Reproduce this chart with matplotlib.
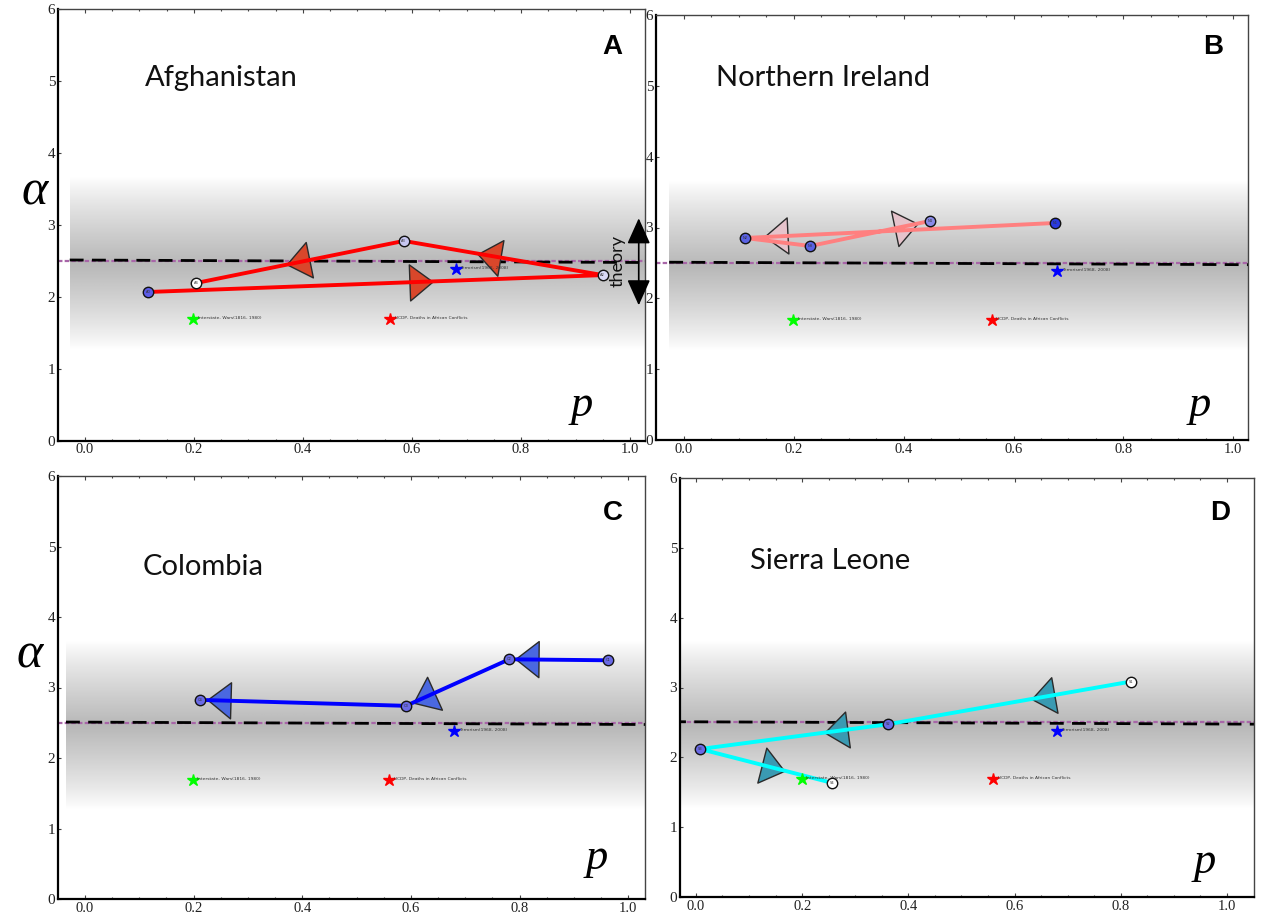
import numpy as np
import matplotlib
matplotlib.use("Agg")
import matplotlib.pyplot as plt
from matplotlib.markers import MarkerStyle
from matplotlib.path import Path
from matplotlib.transforms import Affine2D

# ---------------- data ----------------
countries = ["Afghanistan", "Northern Ireland", "Colombia", "Sierra Leone"]
panel_letters = ["A", "B", "C", "D"]

afg_p = [0.116, 0.950, 0.585, 0.204]
afg_alpha = [2.065, 2.30, 2.775, 2.19]
afg_labels = ["A0", "A2", "A3", "A4"]

nir_p = [0.676, 0.111, 0.230, 0.448]
nir_alpha = [3.064, 2.852, 2.739, 3.092]
nir_labels = ["N1", "N2", "N3", "N4"]

col_p = [0.963, 0.781, 0.591, 0.212]
col_alpha = [3.386, 3.40, 2.74, 2.824]
col_labels = ["C1", "C2", "C3", "C4"]

sle_p = [0.819, 0.362, 0.008, 0.256]
sle_alpha = [3.085, 2.474, 2.119, 1.635]
sle_labels = ["S1", "S2", "S3", "S4"]

ref_names = ["Interstate- Wars(1816- 1980)", "UCDP- Deaths in African Conflicts",
             "Terrorism(1968- 2008)"]
ref_p = [0.199, 0.560, 0.680]
ref_alpha = [1.69, 1.69, 2.38]
ref_colors = ["#00ff00", "#ff0000", "#0000ff"]

theory_alpha = 2.5
band_range = (1.27, 2.45, 3.65)

x_ticks = [0.0, 0.2, 0.4, 0.6, 0.8, 1.0]
x_ticklabels = ["0.0", "0.2", "0.4", "0.6", "0.8", "1.0"]
y_ticks = [0, 1, 2, 3, 4, 5, 6]
y_ticklabels = ["0", "1", "2", "3", "4", "5", "6"]

# ---------------- style ----------------
W, H = 1262, 916
fig = plt.figure(figsize=(W / 100, H / 100), dpi=100)

def frac_box(l, r, t, b):
    return [l / W, 1 - b / H, (r - l) / W, (b - t) / H]

panels = [
    dict(box=frac_box(58, 645, 9, 440.5), xlim=(-0.0495, 1.0275), p=afg_p, a=afg_alpha,
         labels=afg_labels, line="#ff0000", tri="#d9472b",
         faces=["#5c5ce6", "#dadaf6", "#c6c6f0", "#ffffff"],
         fracs=[0.60, 0.57, 0.51], band_x0=-0.028,
         name_xy=(0.148, 0.840), letter_xy=(0.945, 0.912), p_xy=(0.893, 0.083)),
    dict(box=frac_box(656, 1248, 15, 440), xlim=(-0.051, 1.027), p=nir_p, a=nir_alpha,
         labels=nir_labels, line="#ff8080", tri="#e6c3cb",
         faces=["#2a3ae0", "#5a62e4", "#5a62e4", "#8a8ae8"],
         fracs=[0.90, None, 0.80], band_x0=-0.027,
         name_xy=(0.101, 0.852), letter_xy=(0.941, 0.925), p_xy=(0.919, 0.082)),
    dict(box=frac_box(58, 645, 476, 899), xlim=(-0.0497, 1.031), p=col_p, a=col_alpha,
         labels=col_labels, line="#0000ff", tri="#4a68e0",
         faces=["#6a6ae6", "#6a6ae6", "#6a6ae6", "#6a6ae6"],
         fracs=[0.82, 0.83, 0.91], band_x0=-0.035,
         name_xy=(0.145, 0.785), letter_xy=(0.945, 0.913), p_xy=(0.918, 0.096)),
    dict(box=frac_box(680, 1254, 478, 897), xlim=(-0.030, 1.051), p=sle_p, a=sle_alpha,
         labels=sle_labels, line="#00ffff", tri="#3a9ab2",
         faces=["#ffffff", "#6a6ae6", "#6a6ae6", "#ffffff"],
         fracs=[0.36, 0.28, 0.55], band_x0=-0.045,
         name_xy=(0.122, 0.801), letter_xy=(0.941, 0.917), p_xy=(0.915, 0.083)),
]

TRI = Path([(0.62, 0.0), (-0.62, 0.97), (-0.62, -0.97), (0.62, 0.0)],
           [Path.MOVETO, Path.LINETO, Path.LINETO, Path.CLOSEPOLY])

SERIF = "Liberation Serif"
SANS = ["Lato", "DejaVu Sans"]

def add_arrow(ax, x0, y0, x1, y1, frac, color):
    d0 = ax.transData.transform((x0, y0))
    d1 = ax.transData.transform((x1, y1))
    ang = np.degrees(np.arctan2(d1[1] - d0[1], d1[0] - d0[0]))
    xm = x0 + frac * (x1 - x0)
    ym = y0 + frac * (y1 - y0)
    ax.plot([xm], [ym], linestyle="none",
            marker=MarkerStyle(TRI, transform=Affine2D().rotate_deg(ang)),
            ms=26, mfc=color, mec="#2a2a2a", mew=1.0, zorder=3)

for i, cfg in enumerate(panels):
    ax = fig.add_axes(cfg["box"])
    xl = cfg["xlim"]
    lo, mid, hi = band_range
    yy = np.linspace(lo, hi, 400)
    d = np.where(yy >= mid, (yy - mid) / (hi - mid), (mid - yy) / (mid - lo))
    g = 1 - 0.28 * (1 - d) ** 0.85
    img = np.repeat(g[:, None], 2, axis=1)
    ax.imshow(img, extent=(cfg["band_x0"], xl[1], lo, hi), origin="lower", cmap="gray",
              vmin=0, vmax=1, aspect="auto", zorder=0, interpolation="bilinear")
    ax.set_xlim(*xl)
    ax.set_ylim(0, 6)

    # theory lines
    ax.axhline(theory_alpha, color="#a866a8", lw=1.6, ls=(0, (2, 1)), zorder=1.5)
    ax.plot([cfg["band_x0"], xl[1]], [theory_alpha + 0.01, theory_alpha - 0.025],
            color="black", lw=2.0, ls=(0, (5, 3)), zorder=1.6)

    # reference stars
    for rp, ra, rc, rn in zip(ref_p, ref_alpha, ref_colors, ref_names):
        ax.plot([rp], [ra], marker="*", ms=9, color=rc, mec=rc, linestyle="none", zorder=5)
        ax.text(rp + 0.008, ra + 0.015, rn, fontsize=3.2, color="#333333",
                va="center", ha="left", zorder=5)

    # trajectory
    px, pa = cfg["p"], cfg["a"]
    ax.plot(px, pa, color=cfg["line"], lw=2.8, zorder=3.5, solid_capstyle="round")
    for k in range(len(px) - 1):
        if cfg["fracs"][k] is not None:
            add_arrow(ax, px[k], pa[k], px[k + 1], pa[k + 1], cfg["fracs"][k], cfg["tri"])
    for xv, yv, fc, lb in zip(px, pa, cfg["faces"], cfg["labels"]):
        ax.plot([xv], [yv], marker="o", ms=7.5, mfc=fc, mec="#111111", mew=1.0,
                linestyle="none", zorder=6)
        ax.text(xv, yv, lb, fontsize=2.6, ha="center", va="center", color="#333333", zorder=7)

    # axes styling
    for s in ["left", "bottom"]:
        ax.spines[s].set_linewidth(1.6)
        ax.spines[s].set_color("black")
    for s in ["top", "right"]:
        ax.spines[s].set_linewidth(1.0)
        ax.spines[s].set_color("#444444")
    ax.set_xticks(x_ticks)
    ax.set_xticklabels(x_ticklabels, fontfamily=SERIF, fontsize=10.5)
    ax.set_yticks(y_ticks)
    ax.set_yticklabels(y_ticklabels, fontfamily=SERIF, fontsize=11)
    ax.set_xticks(np.arange(0, 1.01, 0.05), minor=True)
    ax.tick_params(axis="x", which="both", direction="in", top=True, length=3, width=0.8,
                   pad=2, colors="#444444", labelcolor="#222222")
    ax.tick_params(axis="x", which="minor", length=1.5)
    ax.tick_params(axis="y", direction="in", length=2, width=0.8, pad=2,
                   colors="#444444", labelcolor="#222222")

    ax.text(*cfg["name_xy"], countries[i], transform=ax.transAxes, fontsize=21,
            family=SANS, ha="left", va="center", color="#111111")
    ax.text(*cfg["letter_xy"], panel_letters[i], transform=ax.transAxes, fontsize=20,
            family=["Liberation Sans", "DejaVu Sans"], fontweight="bold",
            ha="center", va="center", color="black")
    ax.text(*cfg["p_xy"], "p", transform=ax.transAxes, fontsize=32, family=SERIF,
            style="italic", ha="center", va="center", color="black")

    if i == 0:
        ax.annotate("", xy=(1.016, 3.09), xytext=(1.016, 1.88),
                    arrowprops=dict(arrowstyle="<|-|>,head_length=1.0,head_width=0.45",
                                    color="black", lw=1.2, mutation_scale=16,
                                    shrinkA=0, shrinkB=0),
                    annotation_clip=False, zorder=8)
        ax.text(0.978, 2.5, "theory", rotation=90, fontsize=13, family=SANS,
                ha="center", va="center", color="#111111", zorder=8)

fig.text(35 / W, 1 - 192 / H, "α", fontsize=36, family=SERIF, style="italic",
         ha="center", va="center")
fig.text(30 / W, 1 - 655 / H, "α", fontsize=36, family=SERIF, style="italic",
         ha="center", va="center")

fig.savefig("out.png", dpi=100, facecolor="white")
